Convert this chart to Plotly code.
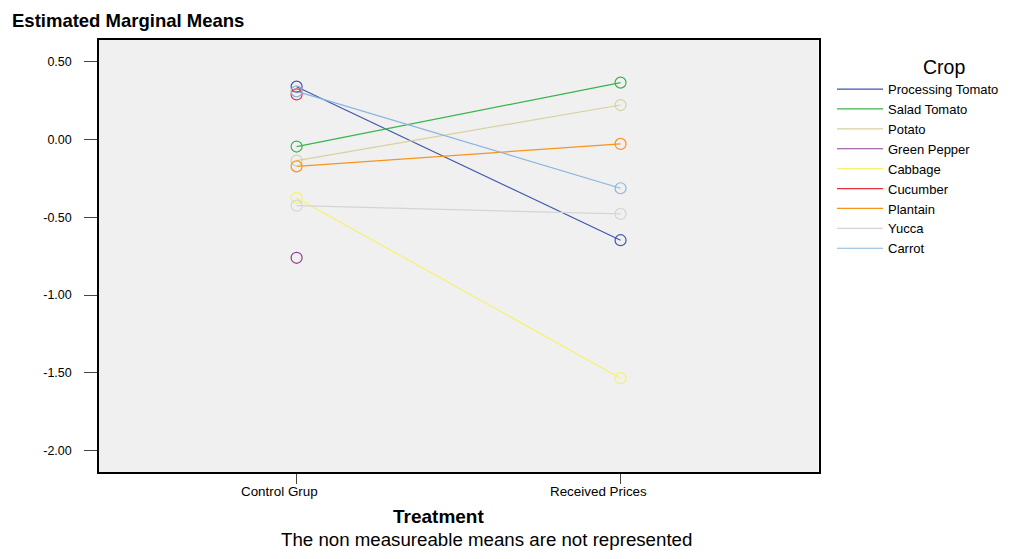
import plotly.graph_objects as go

treatments = ["Control Grup", "Received Prices"]
crops = ["Processing Tomato", "Salad Tomato", "Potato", "Green Pepper", "Cabbage",
         "Cucumber", "Plantain", "Yucca", "Carrot"]
control_means = [0.34, -0.045, -0.135, -0.76, -0.375, 0.29, -0.172, -0.425, 0.31]
received_means = [-0.647, 0.366, 0.222, None, -1.534, None, -0.028, -0.478, -0.313]
colors = ["#3d57ab", "#38b54a", "#d6d29e", "#8e4092", "#f6f26c",
          "#e8313a", "#f7941d", "#d4d4d4", "#8ab5de"]
y_tick_vals = [0.5, 0.0, -0.5, -1.0, -1.5, -2.0]
y_tick_text = ["0.50", "0.00", "-0.50", "-1.00", "-1.50", "-2.00"]

fig = go.Figure()
for name, c, r, col in zip(crops, control_means, received_means, colors):
    fig.add_trace(go.Scatter(x=[0, 1], y=[c, r], mode="lines", name=name,
                             line=dict(color=col, width=1.2), hoverinfo="skip"))
for name, c, r, col in zip(crops, control_means, received_means, colors):
    fig.add_trace(go.Scatter(x=[0, 1], y=[c, r], mode="markers", name=name, showlegend=False,
                             marker=dict(symbol="circle-open", size=11,
                                         line=dict(color=col, width=1.2), color=col)))

# category tick labels (drawn as annotations on the x axis, slightly left of the tick as in the source)
label_shifts = [-17, -22]
annotations = []
for i, (lab, sh) in enumerate(zip(treatments, label_shifts)):
    annotations.append(dict(text=lab, xref="x", yref="paper", x=i, y=-(491.7 - 472) / 432,
                            xanchor="center", yanchor="middle", xshift=sh, showarrow=False,
                            font=dict(size=13.4)))
annotations += [
    dict(text="<b>Treatment</b>", xref="paper", yref="paper", x=(439 - 99) / 721,
         y=-(516.7 - 472) / 432, xanchor="center", yanchor="middle", showarrow=False,
         font=dict(size=19)),
    dict(text="The non measureable means are not represented",
         xref="paper", yref="paper", x=(487.5 - 99) / 721, y=-(539 - 472) / 432,
         xanchor="center", yanchor="middle", showarrow=False, font=dict(size=18.7)),
    dict(text="Crop", xref="paper", yref="paper", x=(945.7 - 99) / 721,
         y=1 - (66.7 - 40) / 432, xanchor="center", yanchor="middle",
         showarrow=False, font=dict(size=19.5)),
]

# page body has an 8px margin, so the figure is offset by (8, 8)
fig.update_layout(
    width=1001, height=551,
    margin=dict(l=91, r=189, t=32, b=87),
    paper_bgcolor="white", plot_bgcolor="#f0f0f0",
    font=dict(family="Liberation Sans, Arial", size=12, color="black"),
    title=dict(text="<b>Estimated Marginal Means</b>", x=0.004, xanchor="left",
               y=0.978, yanchor="middle", font=dict(size=18.5)),
    showlegend=True,
    legend=dict(xref="container", yref="container", x=824 / 1001, xanchor="left",
                y=0.880, yanchor="top",
                bgcolor="rgba(0,0,0,0)", font=dict(size=13),
                itemwidth=46, tracegroupgap=0),
    xaxis=dict(range=[-0.61, 1.611], tickvals=[0, 1], showticklabels=False,
               showgrid=False, zeroline=False, showline=True, linecolor="black",
               linewidth=1.5, mirror=True, ticks="outside", ticklen=10, tickcolor="#444"),
    yaxis=dict(range=[-2.137, 0.64], tickvals=y_tick_vals, ticktext=y_tick_text,
               showgrid=False, zeroline=False, showline=True, linecolor="black",
               linewidth=1.5, mirror=True, ticks="outside", ticklen=13, tickcolor="#444",
               tickfont=dict(size=12.5), ticklabelstandoff=10),
    annotations=annotations,
)

fig.write_html("out.html")
